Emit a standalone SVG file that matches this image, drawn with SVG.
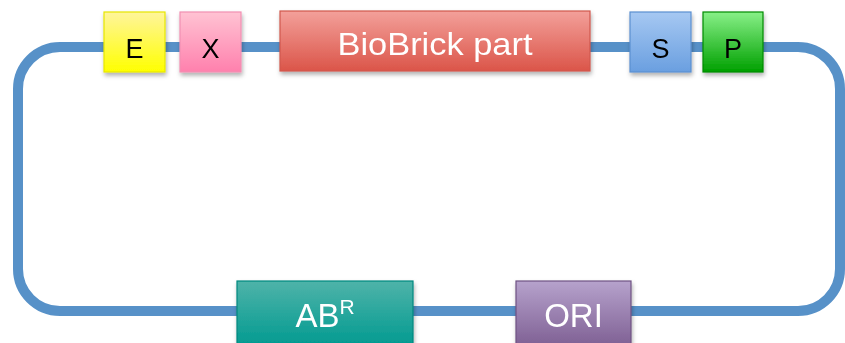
<svg xmlns="http://www.w3.org/2000/svg" width="845" height="343" viewBox="0 0 845 343">
<defs>
<style>
.loop{fill:none;stroke:#5791c8;stroke-width:10}
.box{stroke-width:1.2}
.t{font-family:"Liberation Sans",Arial,sans-serif;text-anchor:middle}
.dark{fill:#000}
.light{fill:#fff}
</style>
<filter id="sh" x="-10%" y="-10%" width="130%" height="140%">
<feDropShadow dx="1" dy="3" stdDeviation="2" flood-color="#000" flood-opacity="0.3"/>
</filter>
<linearGradient id="gE" x1="0" y1="0" x2="0" y2="1"><stop offset="0" stop-color="#fff59c"/><stop offset="1" stop-color="#ffff00"/></linearGradient>
<linearGradient id="gX" x1="0" y1="0" x2="0" y2="1"><stop offset="0" stop-color="#ffc3d3"/><stop offset="1" stop-color="#ff80ad"/></linearGradient>
<linearGradient id="gB" x1="0" y1="0" x2="0" y2="1"><stop offset="0" stop-color="#f3a09a"/><stop offset="1" stop-color="#db5549"/></linearGradient>
<linearGradient id="gS" x1="0" y1="0" x2="0" y2="1"><stop offset="0" stop-color="#a6c8f2"/><stop offset="1" stop-color="#6a9fe0"/></linearGradient>
<linearGradient id="gP" x1="0" y1="0" x2="0" y2="1"><stop offset="0" stop-color="#88f088"/><stop offset="1" stop-color="#00a000"/></linearGradient>
<linearGradient id="gA" x1="0" y1="0" x2="0" y2="1"><stop offset="0" stop-color="#4fb3a9"/><stop offset="1" stop-color="#009a90"/></linearGradient>
<linearGradient id="gO" x1="0" y1="0" x2="0" y2="1"><stop offset="0" stop-color="#b6a2cc"/><stop offset="1" stop-color="#7e5f93"/></linearGradient>
</defs>
<rect width="845" height="343" fill="#fff"/>
<g id="connectors">
<rect class="loop" x="18" y="47" width="822" height="264" rx="42" ry="42"/>
</g>
<g id="node-E" filter="url(#sh)">
<rect class="box" x="104" y="12" width="61" height="60" fill="url(#gE)" stroke="#e6e600"/>
<text class="t dark" x="134.5" y="58" font-size="27">E</text>
</g>
<g id="node-X" filter="url(#sh)">
<rect class="box" x="180" y="12" width="61" height="60" fill="url(#gX)" stroke="#f28fb2"/>
<text class="t dark" x="210.5" y="58" font-size="27">X</text>
</g>
<g id="node-biobrick" filter="url(#sh)">
<rect class="box" x="280" y="11" width="310" height="60" fill="url(#gB)" stroke="#d0584d"/>
<text class="t light" x="435" y="55" font-size="32" textLength="195" lengthAdjust="spacingAndGlyphs">BioBrick part</text>
</g>
<g id="node-S" filter="url(#sh)">
<rect class="box" x="630" y="12" width="61" height="60" fill="url(#gS)" stroke="#5a8fd0"/>
<text class="t dark" x="660.5" y="58" font-size="27">S</text>
</g>
<g id="node-P" filter="url(#sh)">
<rect class="box" x="703" y="12" width="60" height="60" fill="url(#gP)" stroke="#008a00"/>
<text class="t dark" x="733" y="58" font-size="27">P</text>
</g>
<g id="node-ABR" filter="url(#sh)">
<rect class="box" x="237" y="281" width="176" height="66" fill="url(#gA)" stroke="#00887f"/>
<text class="t light" x="325" y="327" font-size="33">AB<tspan font-size="21" dy="-13">R</tspan></text>
</g>
<g id="node-ORI" filter="url(#sh)">
<rect class="box" x="516" y="281" width="115" height="66" fill="url(#gO)" stroke="#6e5283"/>
<text class="t light" x="573.5" y="327" font-size="33">ORI</text>
</g>
</svg>
